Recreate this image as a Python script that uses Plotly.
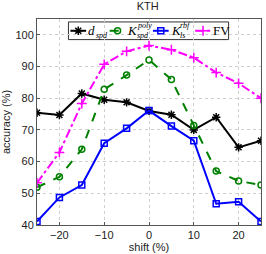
import plotly.graph_objects as go

shift = [-25, -20, -15, -10, -5, 0, 5, 10, 15, 20, 25]
d_spd = [75.4, 74.7, 81.5, 79.5, 78.7, 76.0, 74.8, 70.0, 74.0, 64.5, 66.6]
k_spd_poly = [51.9, 55.2, 63.9, 82.8, 87.3, 92.1, 85.9, 71.4, 57.0, 53.9, 52.6]
k_ls_rbf = [41.1, 48.7, 52.6, 65.8, 70.5, 76.1, 71.2, 66.6, 46.7, 47.3, 41.1]
fv = [53.3, 62.9, 78.3, 90.7, 94.8, 96.6, 95.3, 92.8, 88.1, 84.7, 80.0]

x_ticks = [-20, -10, 0, 10, 20]
x_tick_labels = ["\u221220", "\u221210", "0", "10", "20"]
y_ticks = [40, 50, 60, 70, 80, 90, 100]

# legend label pieces (base symbol, superscript, subscript)
leg_base = ["<i>d</i>", "<i>K</i>", "<i>K</i>", "FV"]
leg_sup = ["", "<i>poly</i>", "<i>rbf</i>", ""]
leg_sub = ["<i>spd</i>", "<i>spd</i>", "<i>ls</i>", ""]
names = ["d_spd", "K_spd^poly", "K_ls^rbf", "FV"]

values = [d_spd, k_spd_poly, k_ls_rbf, fv]
colors = ["black", "#008000", "blue", "magenta"]
dashes = ["solid", "dash", "solid", "dashdot"]
symbols = ["asterisk-open", "circle-open", "square-open", "cross-thin-open"]
sizes = [7, 6, 6, 7]

# legend layout (pixel coordinates of an overlay axis)
PLOT_L, PLOT_R, PLOT_T, PLOT_B = 34, 262, 19, 229
leg_box = (66, 229, 22, 40)
leg_line_start = [68, 108, 152, 195]
leg_line_len = 16
leg_base_x = [85, 125, 169, 212]
leg_script_x = [93, 135, 179, 0]

fig = go.Figure()
for name, vals, col, dash, sym, sz in zip(names, values, colors, dashes, symbols, sizes):
    fig.add_trace(go.Scatter(
        x=shift, y=vals, name=name, mode="lines+markers", showlegend=False,
        line=dict(color=col, width=2, dash=dash),
        marker=dict(symbol=sym, size=sz, color=col, line=dict(color=col, width=1.5)),
    ))

# legend box
ly = (leg_box[2] + leg_box[3]) / 2
fig.add_shape(type="rect", xref="x2", yref="y2", x0=leg_box[0], x1=leg_box[1],
              y0=leg_box[2], y1=leg_box[3], line=dict(color="#333333", width=1),
              fillcolor="white", layer="below")
serif = "Liberation Serif, DejaVu Serif"
for i in range(4):
    xs = leg_line_start[i]
    col = colors[i]
    fig.add_trace(go.Scatter(
        x=[xs, xs + leg_line_len / 2, xs + leg_line_len], y=[ly, ly, ly],
        xaxis="x2", yaxis="y2", mode="lines", showlegend=False, hoverinfo="skip",
        line=dict(color=col, width=2, dash=dashes[i]),
    ))
    fig.add_trace(go.Scatter(
        x=[xs + leg_line_len / 2], y=[ly],
        xaxis="x2", yaxis="y2", mode="markers", showlegend=False, hoverinfo="skip",
        marker=dict(symbol=symbols[i], size=sizes[i], color=col, line=dict(color=col, width=1.5)),
    ))
    fig.add_annotation(x=leg_base_x[i], y=ly, xref="x2", yref="y2",
                       text=leg_base[i], showarrow=False, xanchor="left", yanchor="middle",
                       borderpad=0, font=dict(family=serif, size=13, color="black"))
    if leg_sup[i]:
        fig.add_annotation(x=leg_script_x[i], y=ly - 5, xref="x2", yref="y2",
                           text=leg_sup[i], showarrow=False, xanchor="left", yanchor="middle",
                           borderpad=0, font=dict(family=serif, size=8, color="black"))
    if leg_sub[i]:
        fig.add_annotation(x=leg_script_x[i], y=ly + 4.5, xref="x2", yref="y2",
                           text=leg_sub[i], showarrow=False, xanchor="left", yanchor="middle",
                           borderpad=0, font=dict(family=serif, size=8, color="black"))

axis_common = dict(
    showgrid=True, gridcolor="#cfcfcf", griddash="dot", gridwidth=1,
    showline=True, linecolor="#555555", linewidth=1, mirror=True,
    ticks="inside", ticklen=3, tickcolor="#555555",
    tickfont=dict(family="Liberation Sans, Arial", size=11, color="#222222"),
    zeroline=False,
)
fig.update_layout(
    xaxis=dict(range=[-25, 25], tickvals=x_ticks, ticktext=x_tick_labels,
               title=dict(text="shift (%)", standoff=1,
                          font=dict(family="Liberation Sans, Arial", size=11, color="#222222")),
               **axis_common),
    yaxis=dict(range=[40, 105], tickvals=y_ticks,
               title=dict(text="accuracy (%)", standoff=4,
                          font=dict(family="Liberation Sans, Arial", size=11, color="#222222")),
               **axis_common),
    xaxis2=dict(overlaying="x", range=[PLOT_L, PLOT_R], visible=False, fixedrange=True),
    yaxis2=dict(overlaying="y", range=[PLOT_B, PLOT_T], visible=False, fixedrange=True),
    width=266, height=254,
    margin=dict(l=34, r=4, t=19, b=25),
    paper_bgcolor="white", plot_bgcolor="white",
    title=dict(text="KTH", x=0.555, xanchor="center", y=0.99, yanchor="top",
               font=dict(family="Liberation Sans, Arial", size=11, color="#222222")),
    showlegend=False,
)

fig.write_html("out.html", config={"displayModeBar": False},
               post_script="document.body.style.margin='0px';")
